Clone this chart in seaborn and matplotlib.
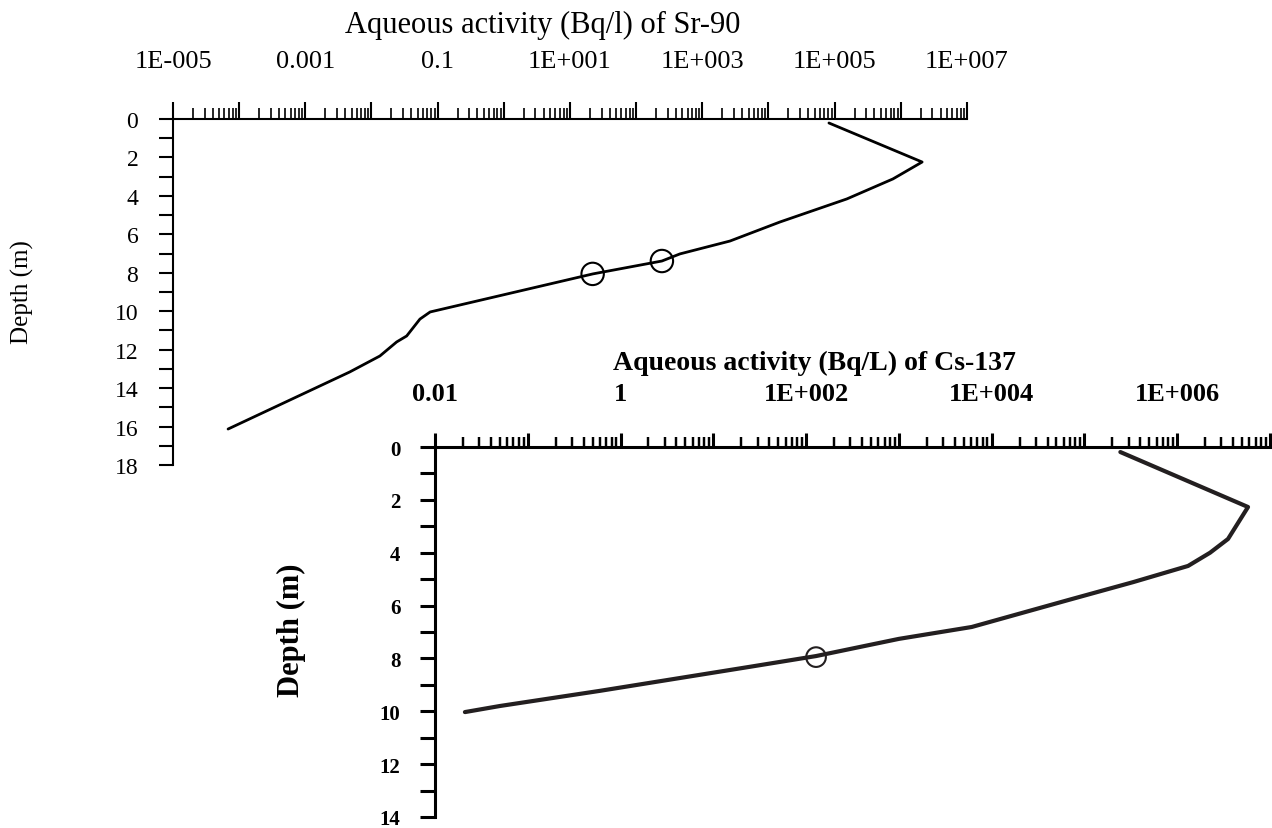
import numpy as np
import pandas as pd
import matplotlib
matplotlib.use("Agg")
import matplotlib.pyplot as plt
import matplotlib.ticker as mticker
import seaborn as sns

sns.set_theme(style="white")
plt.rcParams['font.family'] = ['Liberation Serif', 'DejaVu Serif']
plt.rcParams['text.color'] = 'black'
plt.rcParams['axes.labelcolor'] = 'black'

# ---- Sr-90 profile (top panel) ----
sr_activity = [8.2e4, 2.1e6, 7.6e5, 1.53e5, 1.49e4, 2.62e3, 4.59e2, 2.45e2, 2.22e1,
               7.7e-2, 5.4e-2, 3.4e-2, 2.4e-2, 1.34e-2, 4.7e-3, 6.8e-5]
sr_depth = [0.21, 2.24, 3.12, 4.16, 5.36, 6.35, 7.02, 7.39, 8.06,
            10.04, 10.41, 11.29, 11.60, 12.33, 13.16, 16.13]
sr_obs_activity = [245, 22]
sr_obs_depth = [7.39, 8.06]
sr_tick_labels = ["1E-005", "", "0.001", "", "0.1", "", "1E+001", "", "1E+003", "", "1E+005", "", "1E+007"]

# ---- Cs-137 profile (bottom panel) ----
cs_activity = [2.44e5, 5.8e6, 3.53e6, 2.26e6, 1.31e6, 3.37e5, 6.7e4, 6.1e3, 1.0e3, 1.28e2,
               2.44e1, 5.9e-1, 5.0e-2, 2.1e-2]
cs_depth = [0.19, 2.27, 3.48, 4.00, 4.50, 5.11, 5.79, 6.81, 7.26, 7.91,
            8.32, 9.23, 9.80, 10.03]
cs_obs_activity = [128]
cs_obs_depth = [7.95]
cs_tick_labels = ["0.01", "", "1", "", "1E+002", "", "1E+004", "", "1E+006", ""]

fig = plt.figure(figsize=(12.72, 8.29), dpi=100)

def style_axis(ax, lw, major_len, minor_len, ylen, xfs, yfs, weight, xpad, ypad,
               xmin_exp, xmax_exp, labels, ymax):
    ax.set_xscale('log')
    ax.set_xlim(10.0**xmin_exp, 10.0**xmax_exp)
    ax.set_ylim(ymax, 0)
    ax.xaxis.tick_top()
    ax.xaxis.set_label_position('top')
    majors = [10.0**e for e in range(xmin_exp, xmax_exp + 1)]
    ax.xaxis.set_major_locator(mticker.FixedLocator(majors))
    ax.xaxis.set_major_formatter(mticker.FixedFormatter(labels[:len(majors)]))
    ax.xaxis.set_minor_locator(mticker.LogLocator(base=10, subs=np.arange(2, 10), numticks=100))
    ax.xaxis.set_minor_formatter(mticker.NullFormatter())
    ax.set_yticks(np.arange(0, ymax + 1, 1))
    ax.set_yticklabels([str(int(v)) if v % 2 == 0 else "" for v in np.arange(0, ymax + 1, 1)])
    for s in ['right', 'bottom']:
        ax.spines[s].set_visible(False)
    for s in ['left', 'top']:
        ax.spines[s].set_linewidth(lw)
        ax.spines[s].set_color('black')
    ax.tick_params(axis='x', which='major', direction='out', length=major_len, width=lw,
                   pad=xpad, labelsize=xfs, colors='black', top=True, bottom=False)
    ax.tick_params(axis='x', which='minor', direction='out', length=minor_len, width=lw * 0.8,
                   top=True, bottom=False, colors='black')
    ax.tick_params(axis='y', which='major', direction='out', length=ylen, width=lw,
                   pad=ypad, labelsize=yfs, colors='black', left=True)
    for t in ax.get_xticklabels() + ax.get_yticklabels():
        t.set_fontweight(weight)
    ax.set_facecolor('none')
    ax.grid(False)

# Top panel
ax1 = fig.add_axes([0.136, 0.4379, 0.6242, 0.4174])
sns.lineplot(x=sr_activity, y=sr_depth, sort=False, estimator=None, color='black',
             linewidth=2.0, ax=ax1)
sns.scatterplot(x=sr_obs_activity, y=sr_obs_depth, marker='o', s=260, facecolor='none',
                edgecolor='black', linewidth=1.5, ax=ax1, zorder=5)
style_axis(ax1, 1.5, 12, 8, 10, 19, 17, 'normal', 22, 15, -5, 7, sr_tick_labels, 18)
ax1.set_xlabel("Aqueous activity (Bq/l) of Sr-90", fontsize=22, color='black')
ax1.xaxis.set_label_coords(0.465, 1.25)
ax1.set_ylabel("Depth (m)", fontsize=18, color='black')
ax1.yaxis.set_label_coords(-0.175, 0.503)

# Bottom panel
ax2 = fig.add_axes([0.342, 0.01327, 0.6564, 0.4463])
sns.lineplot(x=cs_activity, y=cs_depth, sort=False, estimator=None, color='#231f20',
             linewidth=3.0, ax=ax2)
sns.scatterplot(x=cs_obs_activity, y=cs_obs_depth, marker='o', s=200, facecolor='none',
                edgecolor='#231f20', linewidth=1.5, ax=ax2, zorder=5)
style_axis(ax2, 2.2, 10, 7, 11, 19, 15, 'bold', 20, 14, -2, 7, cs_tick_labels, 14)
ax2.set_xlabel("Aqueous activity (Bq/L) of Cs-137", fontsize=20, fontweight='bold', color='black')
ax2.xaxis.set_label_coords(0.455, 1.21)
ax2.set_ylabel("Depth (m)", fontsize=22, fontweight='bold', color='black')
ax2.yaxis.set_label_coords(-0.1545, 0.508)

fig.savefig("out.png", dpi=100, facecolor='white')
